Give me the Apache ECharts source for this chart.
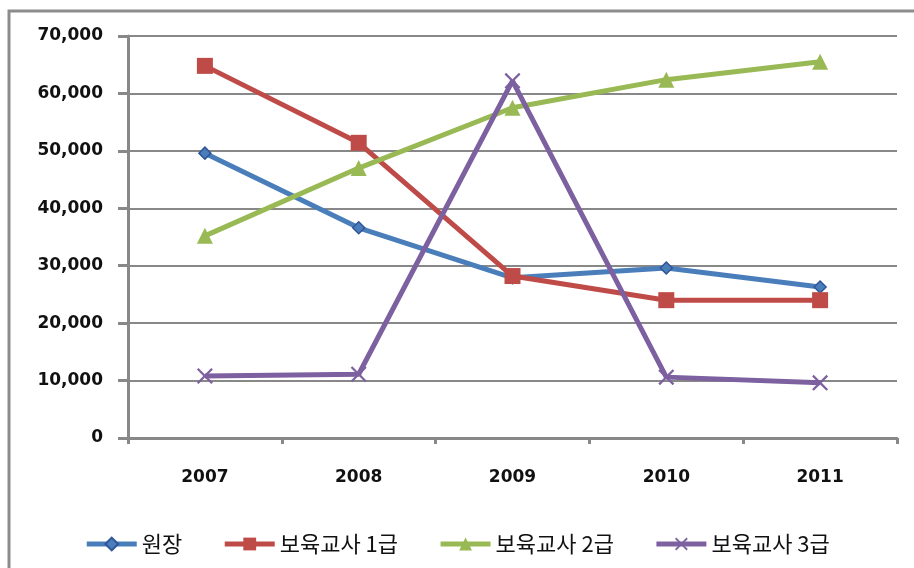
<!DOCTYPE html>
<html>
<head>
<meta charset="utf-8">
<script src="https://cdn.jsdelivr.net/npm/echarts@6/dist/echarts.min.js"></script>
<style>
  html, body { margin: 0; padding: 0; background: #fff; }
  #main { width: 914px; height: 568px; }
</style>
</head>
<body>
<div id="main"></div>
<script>
  // 연도
  var years = ['2007', '2008', '2009', '2010', '2011'];
  var seriesNames = ['원장', '보육교사 1급', '보육교사 2급', '보육교사 3급'];
  // 값
  var director = [49600, 36600, 27900, 29600, 26300];
  var teacher1 = [64800, 51400, 28200, 24000, 24000];
  var teacher2 = [35200, 47000, 57500, 62400, 65500];
  var teacher3 = [10800, 11100, 62200, 10600, 9600];

  var colors = ['#4A7EBB', '#BE4B48', '#98B954', '#7D60A0'];
  var symbols = ['diamond', 'rect', 'triangle',
    'path://M0,1L1,0L5,4L9,0L10,1L6,5L10,9L9,10L5,6L1,10L0,9L4,5Z'];
  var symbolSizes = [12, 16, 16, 16];
  var allData = [director, teacher1, teacher2, teacher3];

  var myChart = echarts.init(document.getElementById('main'));

  var seriesArr = [];
  allData.forEach(function (d, i) {
    seriesArr.push({
      name: seriesNames[i],
      type: 'line',
      data: d,
      symbol: symbols[i],
      symbolSize: symbolSizes[i],
      showAllSymbol: true,
      lineStyle: { color: colors[i], width: 5 },
      itemStyle: { color: colors[i], borderColor: i === 0 ? '#2F5597' : colors[i], borderWidth: i === 0 ? 1.5 : 0 },
      emphasis: { disabled: true }
    });
  });

  var option = {
    backgroundColor: '#fff',
    animation: false,
    color: colors,
    graphic: [{
      type: 'rect',
      shape: { x: 9, y: 11, width: 930, height: 580 },
      style: { fill: 'none', stroke: '#8c8c8c', lineWidth: 3 },
      silent: true
    }],
    grid: { left: 128, right: 17, top: 36, bottom: 130 },
    legend: {
      top: 528,
      left: 'center',
      itemWidth: 50,
      itemHeight: 16,
      itemGap: 40,
      lineStyle: { width: 5 },
      textStyle: { fontFamily: 'Noto Sans CJK KR', fontSize: 22, color: '#111' },
      data: seriesNames
    },
    xAxis: {
      type: 'category',
      data: years,
      boundaryGap: true,
      axisLine: { lineStyle: { color: '#888', width: 3 } },
      axisTick: { show: true, alignWithLabel: false, length: 6, lineStyle: { color: '#888', width: 3 } },
      axisLabel: { margin: 31, fontFamily: 'DejaVu Sans', fontWeight: 'bold', fontSize: 17, color: '#111' }
    },
    yAxis: {
      type: 'value',
      min: 0,
      max: 70000,
      interval: 10000,
      axisLine: { show: true, lineStyle: { color: '#888', width: 3 } },
      axisTick: { show: true, length: 10, lineStyle: { color: '#888', width: 3 } },
      splitLine: { lineStyle: { color: '#888', width: 2 } },
      axisLabel: {
        margin: 25,
        fontFamily: 'DejaVu Sans', fontWeight: 'bold', fontSize: 17, color: '#111',
        formatter: function (v) { return v.toLocaleString('en-US'); }
      }
    },
    series: seriesArr
  };

  myChart.setOption(option);
</script>
</body>
</html>
